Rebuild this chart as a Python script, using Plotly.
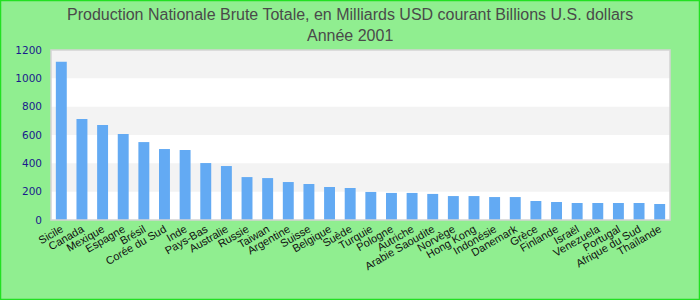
import plotly.graph_objects as go

countries = ["Sicile", "Canada", "Mexique", "Espagne", "Brésil", "Corée du Sud", "Inde",
             "Pays-Bas", "Australie", "Russie", "Taiwan", "Argentine", "Suisse", "Belgique",
             "Suède", "Turquie", "Pologne", "Autriche", "Arabie Saoudite", "Norvège",
             "Hong Kong", "Indonésie", "Danemark", "Grèce", "Finlande", "Israël",
             "Venezuela", "Portugal", "Afrique du Sud", "Thaïlande"]
values = [1117, 713, 670, 607, 550, 501, 494, 402, 381, 303, 296, 268, 254, 233, 226,
          198, 191, 191, 184, 169, 169, 162, 162, 134, 127, 120, 120, 120, 120, 113]
y_ticks = [0, 200, 400, 600, 800, 1000, 1200]
title_lines = ["Production Nationale Brute Totale, en Milliards USD courant Billions U.S. dollars",
               "Année 2001"]

W, H = 700, 300
ML, MR, MT, MB = 51, 30, 50, 80
pw, ph = W - ML - MR, H - MT - MB

fig = go.Figure(go.Bar(x=countries, y=values, marker=dict(color="#63aaf3", line=dict(width=0)),
                       width=0.53))

shapes = []
for i in range(len(y_ticks) - 1):
    if i % 2 == 1:
        shapes.append(dict(type="rect", xref="paper", yref="y", x0=0, x1=1,
                           y0=y_ticks[i], y1=y_ticks[i + 1], fillcolor="#f3f3f3",
                           line=dict(width=0), layer="below"))
# plot border
shapes.append(dict(type="rect", xref="paper", yref="paper", x0=0, x1=1, y0=0, y1=1,
                   line=dict(color="#d4d4d4", width=1.5), layer="above"))
# outer border
shapes.append(dict(type="rect", xref="paper", yref="paper",
                   x0=-(ML - 0.5) / pw, x1=1 + (MR - 0.5) / pw,
                   y0=-(MB - 0.5) / ph, y1=1 + (MT - 0.5) / ph,
                   line=dict(color="#22e022", width=1.5), layer="above"))

annotations = []
for k, (txt, ypx) in enumerate(zip(title_lines, [14, 35])):
    annotations.append(dict(text=txt, xref="paper", yref="paper",
                            x=(W / 2 - ML) / pw, y=1 + (MT - ypx) / ph,
                            xanchor="center", yanchor="middle", showarrow=False,
                            font=dict(family="Liberation Sans, Arial", size=16, color="#4a4a4a")))

fig.update_layout(
    width=W, height=H,
    margin=dict(l=ML, r=MR, t=MT, b=MB),
    paper_bgcolor="#90ee90",
    plot_bgcolor="#ffffff",
    annotations=annotations,
    shapes=shapes,
    showlegend=False,
    xaxis=dict(tickangle=-30, tickfont=dict(family="Liberation Sans, Arial", size=11, color="#111111"),
               showgrid=False, zeroline=False, showline=False, ticks="",
               range=[-0.5, len(countries) - 0.5]),
    yaxis=dict(range=[0, 1200], tickvals=y_ticks, showgrid=False, zeroline=False,
               tickfont=dict(family="DejaVu Sans", size=10.5, color="#1a1a8c"),
               ticks="", ticklabelstandoff=8),
)

fig.write_html("out.html")
